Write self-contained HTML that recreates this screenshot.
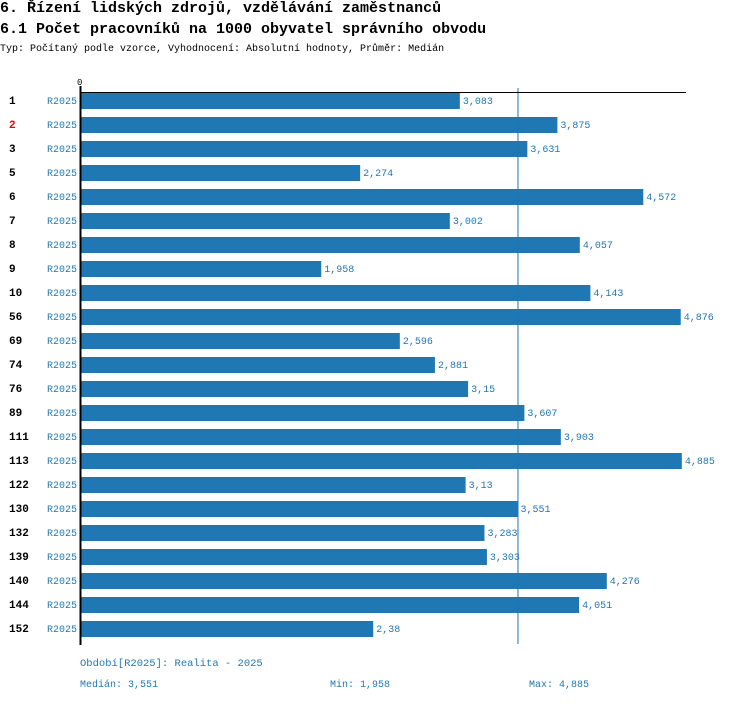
<!DOCTYPE html>
<html><head><meta charset="utf-8"><style>
body{margin:0;background:#fff;width:750px;height:704px;overflow:hidden;position:relative;font-family:"Liberation Mono",monospace}
.t{position:absolute;left:0;white-space:nowrap}
</style></head><body>
<div class="t" style="top:0;font-size:15px;font-weight:bold;line-height:18px">6. Řízení lidských zdrojů, vzdělávání zaměstnanců</div>
<div class="t" style="top:21px;font-size:15px;font-weight:bold;line-height:18px">6.1 Počet pracovníků na 1000 obyvatel správního obvodu</div>
<div class="t" style="top:44px;font-size:10px;line-height:12px">Typ: Počítaný podle vzorce, Vyhodnocení: Absolutní hodnoty, Průměr: Medián</div>
<svg id="c" width="750" height="704" style="position:absolute;left:0;top:0"></svg>
<script>
const categories=["1","2","3","5","6","7","8","9","10","56","69","74","76","89","111","113","122","130","132","139","140","144","152"];
const values=[3083,3875,3631,2274,4572,3002,4057,1958,4143,4876,2596,2881,3150,3607,3903,4885,3130,3551,3283,3303,4276,4051,2380];
const valueLabels=["3,083","3,875","3,631","2,274","4,572","3,002","4,057","1,958","4,143","4,876","2,596","2,881","3,15","3,607","3,903","4,885","3,13","3,551","3,283","3,303","4,276","4,051","2,38"];
const medianValue=3551;
const NS="http://www.w3.org/2000/svg";
const svg=document.getElementById('c');
const x=v=>80+v*0.1232;
const y=i=>92+i*24;
function mk(t,a,txt){const e=document.createElementNS(NS,t);for(const k in a)e.setAttribute(k,a[k]);if(txt!=null)e.textContent=txt;svg.appendChild(e);return e;}
categories.forEach((c,i)=>{
 let l=mk('text',{x:9,y:y(i)+12,'font-family':'Liberation Mono,monospace','font-weight':'bold','font-size':11,fill:i===1?'#e00':'#000'},c);
 
 
 let p=mk('text',{x:47,y:y(i)+12,'font-size':10,fill:'#1f77b4'},'R2025');
 
 
 let b=mk('rect',{x:x(0),y:y(i)+1,width:x(values[i])-x(0),height:16,fill:'#1f77b4'});
 
 
 let v=mk('text',{x:x(values[i])+3,y:y(i)+12,'font-size':10,fill:'#1f77b4'},valueLabels[i]);
 
 
});
let m=mk('line',{x1:x(medianValue)+0.5,x2:x(medianValue)+0.5,y1:88,y2:644,stroke:'#1f77b4','stroke-width':1});


let ax=mk('line',{x1:80,x2:686,y1:92.5,y2:92.5,stroke:'#000','stroke-width':1});


let ay=mk('line',{x1:80.5,x2:80.5,y1:86,y2:645,stroke:'#000','stroke-width':2});


let z=mk('text',{x:77,y:85,'font-size':9},'0');


</script>
<div class="t" style="left:80px;top:658px;font-size:10.5px;color:#1f77b4">Období[R2025]: Realita - 2025</div>
<div class="t" style="left:80px;top:680px;font-size:10px;color:#1f77b4">Medián: 3,551</div>
<div class="t" style="left:330px;top:680px;font-size:10px;color:#1f77b4">Min: 1,958</div>
<div class="t" style="left:529px;top:680px;font-size:10px;color:#1f77b4">Max: 4,885</div>
</body></html>
